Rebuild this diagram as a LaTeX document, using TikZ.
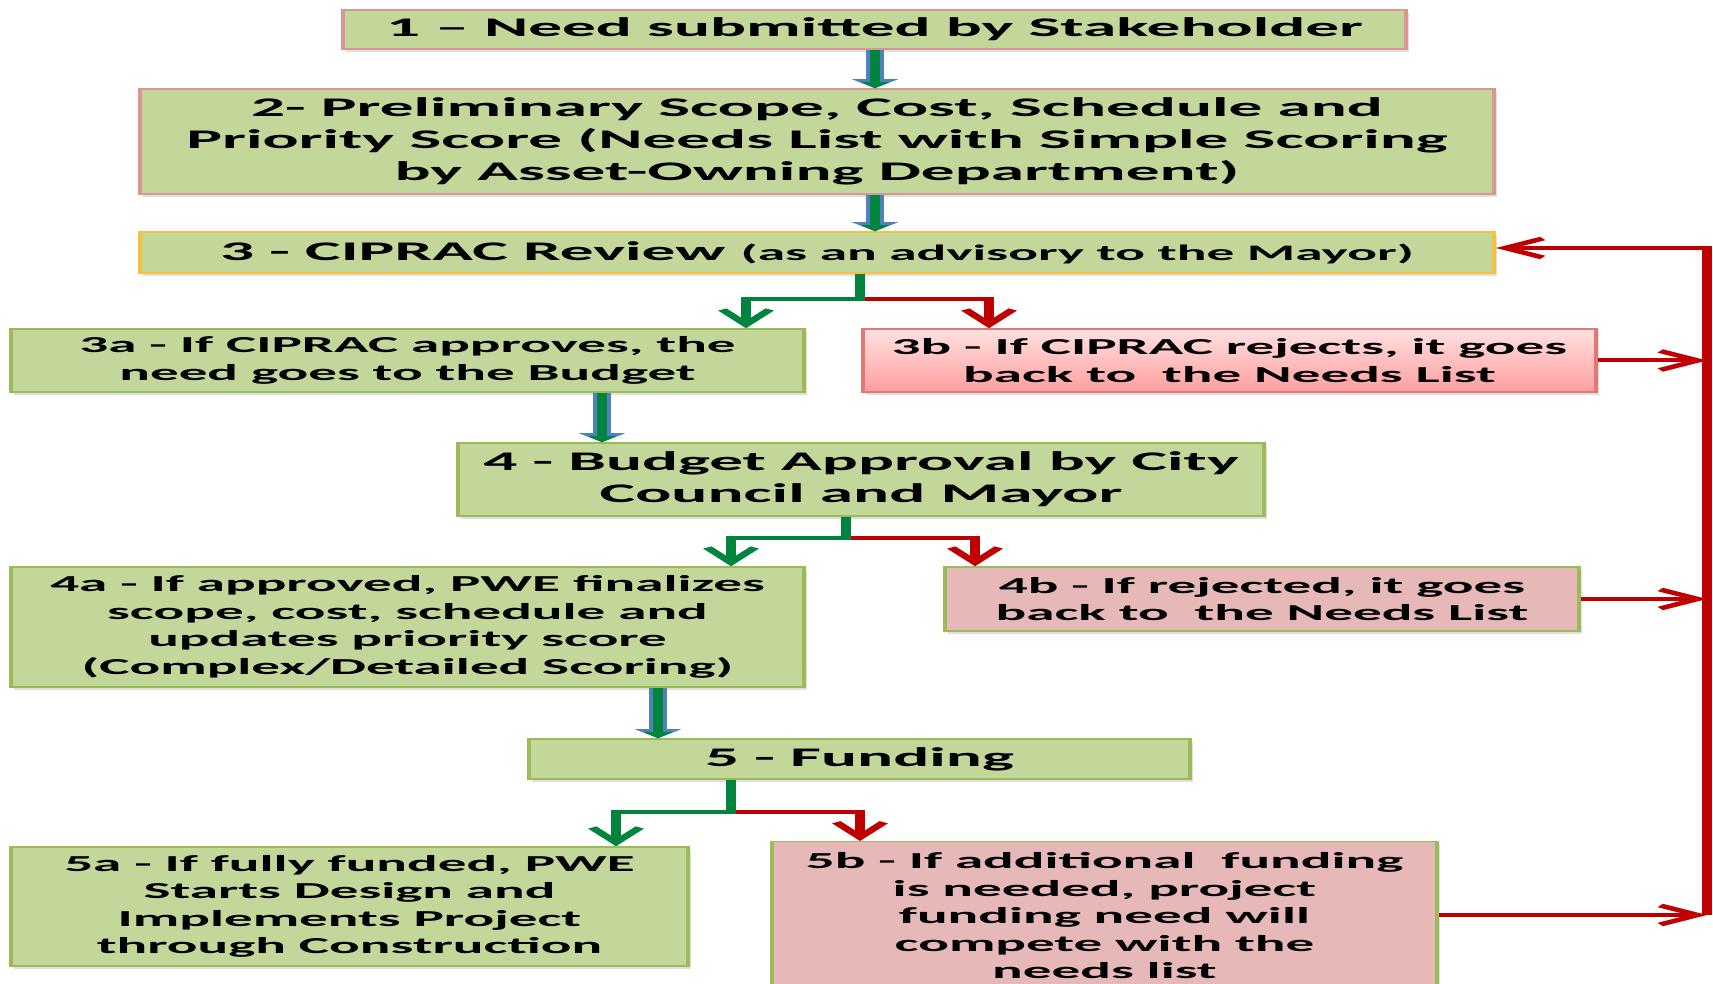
\documentclass[tikz,border=0pt]{standalone}
\usepackage{fontspec}
\setmainfont{Carlito}
\usepackage{tikz}
\usetikzlibrary{arrows.meta}
\usetikzlibrary{shadows}

\definecolor{boxgreen}{RGB}{196,215,155}
\definecolor{boxpink}{RGB}{230,184,183}
\definecolor{edgegreen}{RGB}{155,187,89}
\definecolor{edgered}{RGB}{217,150,148}
\definecolor{edgeyellow}{RGB}{246,193,66}
\definecolor{linegreen}{RGB}{0,132,62}
\definecolor{linered}{RGB}{192,0,0}
\definecolor{arrowblue}{RGB}{79,129,189}

% horizontal stretch of the whole chart
\newcommand{\sfac}{2.5}

\begin{document}
\begin{tikzpicture}[
        x=0.1mm, y=0.1mm,
        box/.style={rectangle, draw=edgegreen, fill=boxgreen, line width=0.15mm, align=center, inner sep=0pt,
            drop shadow={shadow xshift=0.12mm, shadow yshift=-0.3mm, opacity=0.25}},
        big/.style={font=\fontsize{7.65}{9.1}\selectfont\bfseries},
        small/.style={font=\fontsize{6.5}{7.8}\selectfont\bfseries},
        wd/.style={minimum width={#1*0.1mm/\sfac}},
        ht/.style={minimum height={#1*0.1mm}},
        gline/.style={draw=linegreen, line width=0.4mm},
        rline/.style={draw=linered, line width=0.4mm},
        chev/.style={-{Straight Barb[length=1.5mm, width=1.9mm]}},
        blockarr/.style={draw=arrowblue, line width=0.75mm, -{Triangle[length=0.9mm, width=1.8mm]},
            postaction={draw=linegreen, line width=0.4mm, -{Triangle[length=0.6mm, width=1.1mm]}}}
    ]
    \fill[white] (0,0) rectangle (1713,984);
    \useasboundingbox (0,0) rectangle (1713,984);
    \clip (0,0) rectangle (1713,984);

    \begin{scope}[xscale=1/\sfac, transform canvas={xscale=\sfac}]

    % Steps 1 to 3
    \node[box, big, draw=edgered, wd=1063, ht=39] at (874.5,954.5) (n1) {1 -- Need submitted by Stakeholder};
    \node[box, big, draw=edgered, wd=1354, ht=105] at (817,842.5) (n2)
        {2- Preliminary Scope, Cost, Schedule and\\Priority Score (Needs List with Simple Scoring\\by Asset-Owning Department)};
    \node[box, big, draw=edgeyellow, wd=1354, ht=41] at (817,731.5) (n3)
        {3 - CIPRAC Review {\fontsize{6.3}{7}\selectfont (as an advisory to the Mayor)}};

    % CIPRAC outcomes
    \node[box, small, wd=793, ht=63] at (407.5,623.5) (n3a) {3a - If CIPRAC approves, the\\need goes to the Budget};
    \node[box, small, draw=edgered!80!red, top color=red!12, bottom color=red!38, wd=733, ht=63] at (1229.5,623.5) (n3b)
        {3b - If CIPRAC rejects, it goes\\back to\ \ the Needs List};

    % Budget
    \node[box, big, wd=806, ht=73] at (861,504.5) (n4) {4 - Budget Approval by City\\Council and Mayor};
    \node[box, small, wd=793, ht=120] at (407.5,357) (n4a)
        {4a - If approved, PWE finalizes\\scope, cost, schedule and\\updates priority score\\(Complex/Detailed Scoring)};
    \node[box, small, fill=boxpink, wd=634, ht=64] at (1262,385) (n4b) {4b - If rejected, it goes\\back to\ \ the Needs List};

    % Funding
    \node[box, big, wd=661, ht=40] at (859.5,225) (n5) {5 - Funding};
    \node[box, small, wd=677, ht=119] at (349.5,77.5) (n5a)
        {5a - If fully funded, PWE\\Starts Design and\\Implements Project\\through Construction};
    \node[box, small, fill=boxpink, wd=665, ht=148, anchor=north] at (1104.5,143) (n5b)
        {5b - If additional\ \ funding\\is needed, project\\funding need will\\compete with the\\needs list};

    % Block arrows
    \coordinate (c1) at (875,0);
    \coordinate (c3) at (602,0);
    \coordinate (c4) at (658,0);
    \draw[blockarr] (n1.south -| c1) -- (n2.north -| c1);
    \draw[blockarr] (n2.south -| c1) -- (n3.north -| c1);
    \draw[blockarr] (n3a.south -| c3) -- (n4.north -| c3);
    \draw[blockarr] (n4a.south -| c4) -- (n5.north -| c4);

    % Decision branches
    \coordinate (j3) at (860,685);
    \coordinate (j3a) at (746,685);
    \coordinate (j3b) at (989,685);
    \draw[rline, chev] (j3) -- (j3b) -- (j3b |- n3b.north);
    \draw[gline, chev] (n3.south -| j3) -- (j3) -- (j3a) -- (j3a |- n3a.north);

    \coordinate (j4) at (846,446);
    \coordinate (j4a) at (731,446);
    \coordinate (j4b) at (975,446);
    \draw[rline, chev] (j4) -- (j4b) -- (j4b |- n4b.north);
    \draw[gline, chev] (n4.south -| j4) -- (j4) -- (j4a) -- (j4a |- n4a.north);

    \coordinate (j5) at (731,172);
    \coordinate (j5a) at (616,172);
    \coordinate (j5b) at (860,172);
    \draw[rline, chev] (j5) -- (j5b) -- (j5b |- n5b.north);
    \draw[gline, chev] (n5.south -| j5) -- (j5) -- (j5a) -- (j5a |- n5a.north);

    % Back to the Needs List
    \coordinate (busTop) at (1707,736);
    \coordinate (busBot) at (1707,69);
    \draw[rline, chev] (busBot) -- (busTop) -- (busTop -| n3.east);
    \draw[rline, chev] (n3b.east) -- (n3b.east -| busTop);
    \draw[rline, chev] (n4b.east) -- (n4b.east -| busTop);
    \draw[rline, chev] (n5b.east |- busBot) -- (busBot);

    \end{scope}
\end{tikzpicture}
\end{document}
